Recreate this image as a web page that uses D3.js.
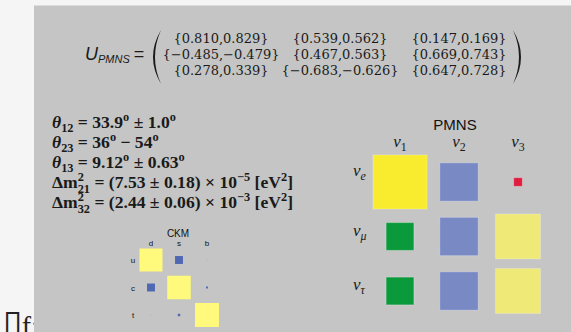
<!DOCTYPE html>
<html>
<head>
<meta charset="utf-8">
<script src="https://cdn.jsdelivr.net/npm/d3@7"></script>
<style>
  body { margin: 0; background: #f5f5f5; }
  svg { display: block; }
</style>
</head>
<body>
<div id="chart"></div>
<script>
// --- data ---------------------------------------------------------------
const matrixRows = [
    ["{0.810,0.829}", "{0.539,0.562}", "{0.147,0.169}"],
    ["{\u22120.485,\u22120.479}", "{0.467,0.563}", "{0.669,0.743}"],
    ["{0.278,0.339}", "{\u22120.683,\u22120.626}", "{0.647,0.728}"]
];

const pmnsCols = ["1", "2", "3"];
const pmnsRows = ["e", "\u03bc", "\u03c4"];
// relative box size (row-major: e, mu, tau)
const pmnsValues = [
    [0.82, 0.58, 0.13],
    [0.42, 0.58, 0.68],
    [0.42, 0.58, 0.68]
];

const ckmCols = ["d", "s", "b"];
const ckmRows = ["u", "c", "t"];
const ckmValues = [
    [0.96, 0.33, 0.04],
    [0.33, 0.98, 0.08],
    [0.04, 0.10, 1.00]
];

const width = 571, height = 332;

const svg = d3.select("#chart")
    .append("svg")
    .attr("width", width)
    .attr("height", height);

// caption fragment that sits behind the panel
svg.append("text")
    .attr("x", 3)
    .attr("y", 335)
    .attr("font-size", 28)
    .attr("fill", "#222")
    .call(t => {
        t.append("tspan").attr("font-family", "DejaVu Sans").attr("font-size", 36).text("\u25af");
        t.append("tspan").attr("font-family", "Liberation Serif").attr("dx", -1).text("f:");
    });

// grey panel
svg.append("rect")
    .attr("x", 34)
    .attr("y", 5.5)
    .attr("width", width - 34)
    .attr("height", height - 5.5)
    .attr("fill", "#c4c5c4");

const ink = "#1a1a1a";
const serif = "'Liberation Serif', 'DejaVu Serif', serif";

// write a run of [text, kind] pieces, placing each piece at a measured x
function rich(g, x, y, parts, opts = {}) {
    const size = opts.size || 16;
    const t = g.append("text")
        .attr("y", y)
        .attr("font-family", opts.family || serif)
        .attr("font-size", size)
        .attr("font-weight", opts.weight || "normal")
        .attr("fill", ink)
        .attr("xml:space", "preserve");
    let cursor = 0, supStart = null, supEnd = null;
    parts.forEach(([txt, kind]) => {
        const small = kind !== "n" && kind !== "i";
        const s = t.append("tspan")
            .attr("font-size", small ? size * 0.7 : size)
            .attr("font-style", (kind === "i" || kind === "isub") ? "italic" : "normal")
            .text(txt);
        let yy = y;
        if (kind === "sup") yy = y - size * 0.4;
        if (kind === "sub" || kind === "isub") yy = y + size * 0.25;
        if (kind === "under") yy = y + size * 0.3;
        let x0 = cursor;
        if (kind === "under" && supStart !== null) x0 = supStart;
        s.attr("x", x + x0).attr("y", yy);
        const w = s.node().getComputedTextLength();
        if (kind === "sup") { supStart = x0; supEnd = x0 + w; }
        cursor = kind === "under" ? Math.max(supEnd, x0 + w) : x0 + w;
        if (kind !== "sup") supStart = kind === "under" ? null : supStart;
    });
    if (opts.anchor === "middle") {
        t.selectAll("tspan").attr("x", function () { return +d3.select(this).attr("x") - cursor / 2; });
    }
    return t;
}

// --- U_PMNS matrix --------------------------------------------------------
const mat = svg.append("g").attr("class", "matrix");

mat.append("text")
    .attr("x", 85)
    .attr("y", 60)
    .attr("font-family", "Liberation Sans")
    .attr("font-style", "italic")
    .attr("font-size", 18)
    .attr("fill", ink)
    .call(t => {
        t.append("tspan").text("U");
        t.append("tspan").attr("font-size", 11).attr("dy", 3).text("PMNS");
        t.append("tspan").attr("font-style", "normal").attr("dy", -3).attr("dx", 4).text("=");
    });

const matX = d3.scalePoint().domain([0, 1, 2]).range([221, 459]);
const matY = d3.scalePoint().domain([0, 1, 2]).range([43, 75]);

matrixRows.forEach((row, i) => {
    row.forEach((cell, j) => {
        mat.append("text")
            .attr("x", matX(j))
            .attr("y", matY(i))
            .attr("text-anchor", "middle")
            .attr("font-family", "'DejaVu Serif', serif")
            .attr("font-size", 13)
            .attr("fill", ink)
            .text(cell);
    });
});

mat.append("path")
    .attr("d", "M161,30 Q145,57 161,84 Q149,57 161,30 Z")
    .attr("fill", ink);
mat.append("path")
    .attr("d", "M513,30 Q529,57 513,84 Q525,57 513,30 Z")
    .attr("fill", ink);

// --- parameter list -------------------------------------------------------
const params = svg.append("g").attr("class", "params");
const paramLines = [
    [["\u03b8", "i"], ["12", "sub"], [" = 33.9", "n"], ["o", "sup"], [" \u00b1 1.0", "n"], ["o", "sup"]],
    [["\u03b8", "i"], ["23", "sub"], [" = 36", "n"], ["o", "sup"], [" \u2212 54", "n"], ["o", "sup"]],
    [["\u03b8", "i"], ["13", "sub"], [" = 9.12", "n"], ["o", "sup"], [" \u00b1 0.63", "n"], ["o", "sup"]],
    [["\u0394m", "n"], ["2", "sup"], ["21", "under"], [" = (7.53 \u00b1 0.18) \u00d7 10", "n"], ["\u22125", "sup"], [" [eV", "n"], ["2", "sup"], ["]", "n"]],
    [["\u0394m", "n"], ["2", "sup"], ["32", "under"], [" = (2.44 \u00b1 0.06) \u00d7 10", "n"], ["\u22123", "sup"], [" [eV", "n"], ["2", "sup"], ["]", "n"]]
];
const paramY = d3.scalePoint().domain(d3.range(paramLines.length)).range([128, 208]);
paramLines.forEach((parts, i) => {
    rich(params, 52, paramY(i), parts, { size: 17.6, weight: "bold" });
});

// --- PMNS box chart -------------------------------------------------------
const pm = svg.append("g").attr("class", "pmns");
const pmX = d3.scalePoint().domain(pmnsCols).range([400, 518]);
const pmY = d3.scalePoint().domain(pmnsRows).range([182, 291]);
const pmSide = d3.scaleLinear().domain([0, 1]).range([0, 66]);
const pmColor = d3.scaleThreshold()
    .domain([0.3, 0.5, 0.65, 0.75])
    .range(["#e11d3f", "#0b9a3b", "#7889c4", "#efe978", "#f9ec2f"]);

pm.append("text")
    .attr("x", 455)
    .attr("y", 130)
    .attr("text-anchor", "middle")
    .attr("font-family", "Liberation Sans")
    .attr("font-size", 15)
    .attr("fill", "#111")
    .text("PMNS");

pmnsCols.forEach(c => {
    rich(pm, pmX(c), 147, [["\u03bd", "i"], [c, "sub"]], { size: 17, anchor: "middle" });
});
pmnsRows.forEach((r, i) => {
    rich(pm, 353, pmY(r) - (i === 0 ? 6 : 1), [["\u03bd", "i"], [r, "isub"]], { size: 17 });
});

pmnsRows.forEach((r, i) => {
    pmnsCols.forEach((c, j) => {
        const v = pmnsValues[i][j], s = pmSide(v);
        pm.append("rect")
            .attr("x", pmX(c) - s / 2)
            .attr("y", pmY(r) - s / 2)
            .attr("width", s)
            .attr("height", s)
            .attr("fill", pmColor(v))
            .attr("stroke", "rgba(255,255,255,0.25)")
            .attr("stroke-width", 1);
    });
});

// --- CKM box chart --------------------------------------------------------
const ck = svg.append("g").attr("class", "ckm");
const ckX = d3.scalePoint().domain(ckmCols).range([151, 207]);
const ckY = d3.scalePoint().domain(ckmRows).range([260, 315]);
const ckSide = d3.scaleLinear().domain([0, 1]).range([0, 24]);
const ckColor = d3.scaleThreshold()
    .domain([0.06, 0.5])
    .range(["#8cc8c8", "#5068b4", "#fffa7c"]);

ck.append("text")
    .attr("x", 178)
    .attr("y", 237)
    .attr("text-anchor", "middle")
    .attr("font-family", "Liberation Sans")
    .attr("font-size", 10)
    .attr("fill", "#111")
    .text("CKM");

ckmCols.forEach(c => {
    ck.append("text")
        .attr("x", ckX(c))
        .attr("y", 246)
        .attr("text-anchor", "middle")
        .attr("font-family", "Liberation Sans")
        .attr("font-size", 8)
        .attr("fill", "#111")
        .text(c);
});
ckmRows.forEach(r => {
    ck.append("text")
        .attr("x", 133)
        .attr("y", ckY(r) + 3)
        .attr("text-anchor", "middle")
        .attr("font-family", "Liberation Sans")
        .attr("font-size", 8)
        .attr("fill", "#111")
        .text(r);
});

ckmRows.forEach((r, i) => {
    ckmCols.forEach((c, j) => {
        const v = ckmValues[i][j], s = ckSide(v);
        ck.append("rect")
            .attr("x", ckX(c) - s / 2)
            .attr("y", ckY(r) - s / 2)
            .attr("width", s)
            .attr("height", s)
            .attr("fill", ckColor(v));
    });
});
</script>
</body>
</html>
